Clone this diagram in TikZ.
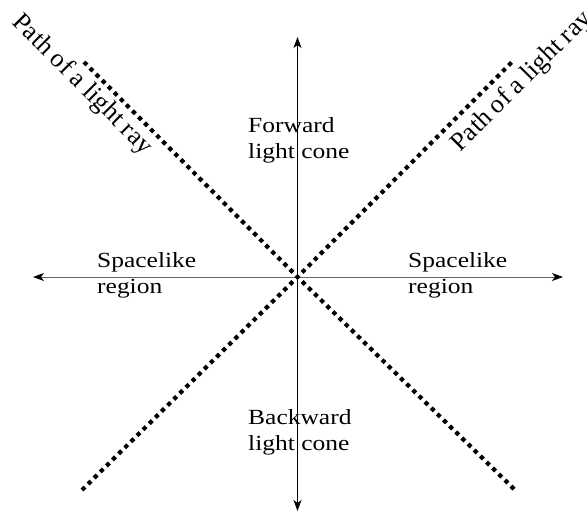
\documentclass[tikz,border=0pt]{standalone}
\usepackage{fontspec}
\setmainfont{Liberation Serif}
\newfontfamily\widefont{Liberation Serif}[FakeStretch=1.18]
\usetikzlibrary{arrows.meta}
\tikzset{
  axis/.style={line width=1pt, -{Stealth[length=11pt,width=8pt,inset=3pt,color=black]}},
  ray/.style={line width=4.2pt, dash pattern=on 4.2pt off 4.4pt, dash phase=2.1pt},
  lbl/.style={inner sep=0pt, align=left, anchor=base west, font=\widefont\fontsize{21.6}{25.5}\selectfont},
  raylbl/.style={inner sep=0pt, font=\fontsize{26}{30}\selectfont}
}
\begin{document}
\begin{tikzpicture}[x=1pt,y=-1pt]
\useasboundingbox (0,0) rectangle (587,514);
\coordinate (O) at (297.5,277);
\coordinate (top) at (297.5,37);
\coordinate (bot) at (297.5,511);
\coordinate (left) at (33,277);
\coordinate (right) at (563,277);
\coordinate (tl) at (84,62);
\coordinate (tr) at (512,62);
\coordinate (bl) at (82,490);
\coordinate (br) at (515,490);
\draw[axis] (O) -- (top);
\draw[axis] (O) -- (bot);
\draw[axis, draw=black!60] (O) -- (left);
\draw[axis, draw=black!60] (O) -- (right);
\draw[ray] (O) -- (tl);
\draw[ray] (O) -- (tr);
\draw[ray] (O) -- (bl);
\draw[ray] (O) -- (br);
\node[lbl] (fwd) at (248,158) {Forward\\light cone};
\node[lbl] (bwd) at (248,450) {Backward\\light cone};
\node[lbl] (sl) at (97,293) {Spacelike\\region};
\node[lbl] (sr) at (408,293) {Spacelike\\region};
\node[raylbl, rotate=-45] (pl) at (82,85) {Path of a light ray};
\node[raylbl, rotate=45] (pr) at (522,82) {Path of a light ray};
\end{tikzpicture}
\end{document}
